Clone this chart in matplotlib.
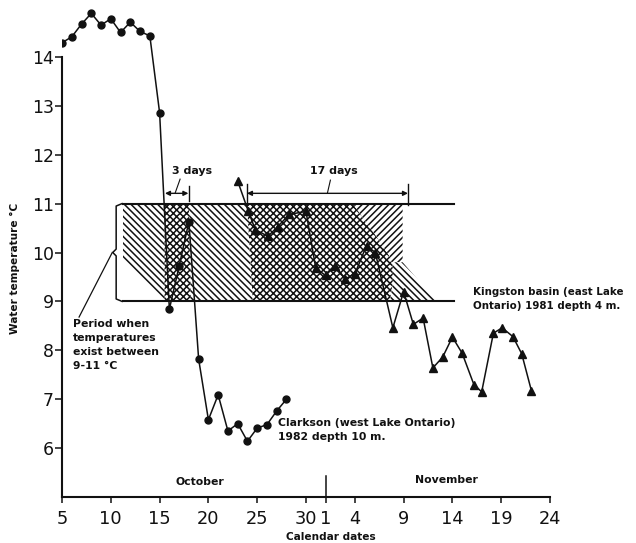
import matplotlib
matplotlib.use("Agg")
import matplotlib.pyplot as plt

# Day numbers: 1 = 1 October, 32 = 1 November
clarkson_days = [5, 6, 7, 8, 9, 10, 11, 12, 13, 14, 15, 16, 17, 18,
                 19, 20, 21, 22, 23, 24, 25, 26, 27, 28]
clarkson_temp = [14.29, 14.41, 14.67, 14.89, 14.65, 14.78, 14.50, 14.71,
                 14.52, 14.43, 12.86, 8.84, 9.72, 10.63, 7.82, 6.58, 7.09,
                 6.35, 6.50, 6.14, 6.41, 6.48, 6.76, 7.00]

kingston_days = [23, 24.1, 24.8, 26.1, 27.1, 28.3, 30, 31, 32, 33, 34, 35,
                 36.2, 37.1, 38.9, 40, 41, 42, 43, 44, 45, 46, 47.2, 48,
                 49.2, 50.1, 51.2, 52.1, 53.1]
kingston_temp = [11.46, 10.84, 10.47, 10.33, 10.53, 10.78, 10.84, 9.68,
                 9.53, 9.73, 9.46, 9.56, 10.14, 10.0, 8.46, 9.20, 8.53,
                 8.66, 7.64, 7.86, 8.27, 7.94, 7.30, 7.15, 8.35, 8.46,
                 8.28, 7.93, 7.17]

tick_days = [5, 10, 15, 20, 25, 30, 32, 35, 40, 45, 50, 55]
tick_labels = ["5", "10", "15", "20", "25", "30", "1", "4", "9", "14", "19", "24"]
y_ticks = [6, 7, 8, 9, 10, 11, 12, 13, 14]

band_low, band_high = 9, 11
band_start, band_end = 11.25, 45.2

# shaded regions (day, temperature)
left_diag = [(11.25, 11), (23.95, 11), (24.55, 9), (15.5, 9), (11.25, 9.85)]
clarkson_cross = [(15.5, 9), (15.5, 11), (18.0, 11), (18.2, 9)]
kingston_cross = [(23.95, 11), (34.8, 11), (36.35, 10.57), (37.6, 10.22),
                  (38.6, 9.91), (38.9, 9.7), (38.9, 9.39), (38.6, 9.0), (24.55, 9)]
right_fwd = [(34.8, 11), (39.9, 11), (39.9, 9.8), (38.75, 9.8), (38.6, 9.91),
             (37.6, 10.22), (36.35, 10.57)]
right_back = [(38.75, 9.8), (39.9, 9.8), (43.4, 9.0), (38.6, 9.0),
              (38.9, 9.39), (38.9, 9.7)]

INK = "#111111"
plt.rcParams["font.family"] = "DejaVu Sans"
plt.rcParams["hatch.linewidth"] = 1.1

fig = plt.figure(figsize=(6.36, 5.43), dpi=100)
ax = fig.add_axes([62 / 636, 46 / 543, 568 / 636, 492 / 543])
ax.set_xlim(5, 5 + 568 / 9.76)
ax.set_ylim(5, 5 + 492 / 48.9)

for poly, hatch, z in [(left_diag, "\\" * 5, 1.0), (clarkson_cross, "x" * 5, 1.1),
                       (kingston_cross, "x" * 5, 1.1), (right_fwd, "/" * 5, 1.1),
                       (right_back, "\\" * 5, 1.1)]:
    xs, ys = zip(*poly)
    ax.fill(xs, ys, facecolor="white", edgecolor=INK, hatch=hatch, lw=0, zorder=z)

ax.plot([band_start, band_end], [band_high, band_high], color=INK, lw=1.5, zorder=2)
ax.plot([band_start, band_end], [band_low, band_low], color=INK, lw=1.5, zorder=2)

ax.plot(clarkson_days, clarkson_temp, "-o", color=INK, lw=1.1, ms=5, zorder=3)
ax.plot(kingston_days, kingston_temp, "-^", color=INK, lw=1.1, ms=5.5, zorder=3)

# brace on the left of the band and its leader
brace_x = [11.15, 10.55, 10.55, 10.2, 10.55, 10.55, 11.15]
brace_y = [11.0, 10.95, 10.07, 10.0, 9.93, 9.05, 9.0]
ax.plot(brace_x, brace_y, color=INK, lw=1.1, zorder=3)
ax.plot([6.75, 10.15], [8.68, 10.0], color=INK, lw=0.9, zorder=3)

# "3 days" and "17 days" markers
arrow = dict(arrowstyle="<|-|>", color=INK, lw=1.0, mutation_scale=7,
             shrinkA=0, shrinkB=0)
ax.annotate("", xy=(15.55, 11.21), xytext=(17.95, 11.21), arrowprops=arrow)
ax.plot([18.0, 18.0], [11.06, 11.36], color=INK, lw=1.0)
ax.plot([17.1, 16.6], [11.5, 11.22], color=INK, lw=0.8)
ax.text(18.3, 11.67, "3 days", fontsize=7.9, fontweight="bold", ha="center",
        va="center", color=INK)

ax.annotate("", xy=(23.95, 11.21), xytext=(40.45, 11.21), arrowprops=arrow)
ax.plot([23.92, 23.92], [10.98, 11.4], color=INK, lw=1.0)
ax.plot([40.5, 40.5], [10.98, 11.4], color=INK, lw=1.0)
ax.plot([32.5, 32.2], [11.48, 11.22], color=INK, lw=0.8)
ax.text(32.9, 11.67, "17 days", fontsize=7.9, fontweight="bold", ha="center",
        va="center", color=INK)

lab = dict(fontweight="bold", color=INK, linespacing=1.5)
ax.text(6.1, 8.64, "Period when\ntemperatures\nexist between\n9-11 °C",
        ha="left", va="top", fontsize=7.8, **lab)
ax.text(27.1, 6.62, "Clarkson (west Lake Ontario)\n1982 depth 10 m.",
        ha="left", va="top", fontsize=7.8, **lab)
ax.text(47.1, 9.3, "Kingston basin (east Lake\nOntario) 1981 depth 4 m.",
        ha="left", va="top", fontsize=7.4, clip_on=False, **lab)
ax.text(19.1, 5.31, "October", ha="center", va="center", fontsize=7.8, **lab)
ax.text(44.4, 5.35, "November", ha="center", va="center", fontsize=7.8, **lab)

# month separator
ax.plot([32.05, 32.05], [5, 5.42], color=INK, lw=1.1, clip_on=False)

ax.spines["top"].set_visible(False)
ax.spines["right"].set_visible(False)
ax.spines["left"].set_bounds(5, 14)
ax.spines["bottom"].set_bounds(5, 55)
for s in ("left", "bottom"):
    ax.spines[s].set_linewidth(1.5)
    ax.spines[s].set_color(INK)

ax.set_xticks(tick_days)
ax.set_xticklabels(tick_labels)
ax.set_yticks(y_ticks)
ax.tick_params(axis="x", direction="out", length=4, width=1.1, pad=5,
               labelsize=12.8, colors=INK)
ax.tick_params(axis="y", direction="out", length=5, width=1.1, pad=1,
               labelsize=12.5, colors=INK)

fig.text(331 / 636, 1 - 537 / 543, "Calendar dates", ha="center", va="center",
         fontsize=7.6, fontweight="bold", color=INK)
fig.text(15 / 636, 1 - 268 / 543, "Water temperature °C", ha="center",
         va="center", rotation=90, fontsize=7.6, fontweight="bold", color=INK)

fig.savefig("out.png", dpi=100)
